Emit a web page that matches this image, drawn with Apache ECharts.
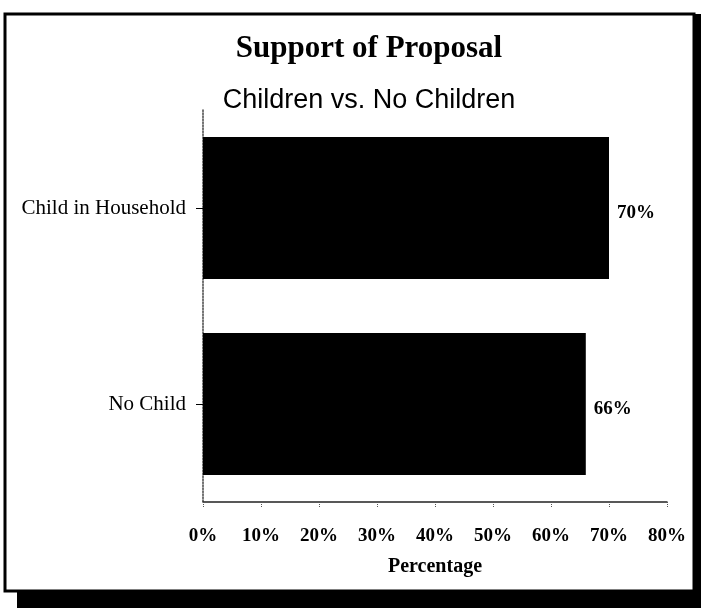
<!DOCTYPE html>
<html>
<head>
<meta charset="utf-8">
<script src="https://cdn.jsdelivr.net/npm/echarts@6/dist/echarts.min.js"></script>
<style>
html,body{margin:0;padding:0;background:#fff;}
#chart{width:701px;height:610px;}
</style>
</head>
<body>
<div id="chart"></div>
<script>
var categories = ['Child in Household', 'No Child'];
var supportValues = [70, 66];
var tickMin = 0, tickMax = 80, tickStep = 10;

var chart = echarts.init(document.getElementById('chart'));
var serif = '"Liberation Serif", "DejaVu Serif", serif';
var sans = '"Liberation Sans", Arial, sans-serif';

chart.setOption({
  backgroundColor: '#fff',
  animation: false,
  graphic: [
    { type: 'rect', shape: { x: 17, y: 592, width: 684, height: 16 }, style: { fill: '#000' }, z: 0 },
    { type: 'rect', shape: { x: 693, y: 14, width: 8, height: 594 }, style: { fill: '#000' }, z: 0 },
    { type: 'rect', shape: { x: 5, y: 14, width: 689, height: 577 }, style: { fill: 'none', stroke: '#000', lineWidth: 3 }, z: 1 }
  ],
  title: [
    { text: 'Support of Proposal', left: 364, textAlign: 'center', top: 28,
      textStyle: { fontFamily: serif, fontWeight: 'bold', fontSize: 31, color: '#000' } },
    { text: 'Children vs. No Children', left: 364, textAlign: 'center', top: 82,
      textStyle: { fontFamily: sans, fontWeight: 'normal', fontSize: 27, color: '#000' } }
  ],
  grid: { left: 203, right: 34, top: 110, bottom: 108, containLabel: false },
  xAxis: {
    type: 'value', min: tickMin, max: tickMax, interval: tickStep,
    name: 'Percentage', nameLocation: 'middle', nameGap: 55,
    nameTextStyle: { fontFamily: serif, fontWeight: 'bold', fontSize: 20, color: '#000' },
    axisLine: { show: true, lineStyle: { color: '#222', width: 1.5 } },
    axisTick: { show: true, length: 6, lineStyle: { color: '#555', type: 'dotted' } },
    axisLabel: { formatter: '{value}%', margin: 25, fontFamily: serif, fontWeight: 'bold', fontSize: 19, color: '#000' },
    splitLine: { show: false }
  },
  yAxis: {
    type: 'category', data: categories, inverse: true,
    axisLine: { show: true, lineStyle: { color: '#444', type: 'dotted', width: 1.5 } },
    axisTick: { show: true, alignWithLabel: true, length: 7, lineStyle: { color: '#000' } },
    axisLabel: { margin: 17, fontFamily: serif, fontSize: 21, color: '#000' }
  },
  series: [{
    type: 'bar', data: supportValues, barWidth: 142,
    itemStyle: { color: '#000' },
    label: { show: true, position: 'right', distance: 8, offset: [0, 5], formatter: '{c}%',
      fontFamily: serif, fontWeight: 'bold', fontSize: 19, color: '#000' }
  }]
});
</script>
</body>
</html>
